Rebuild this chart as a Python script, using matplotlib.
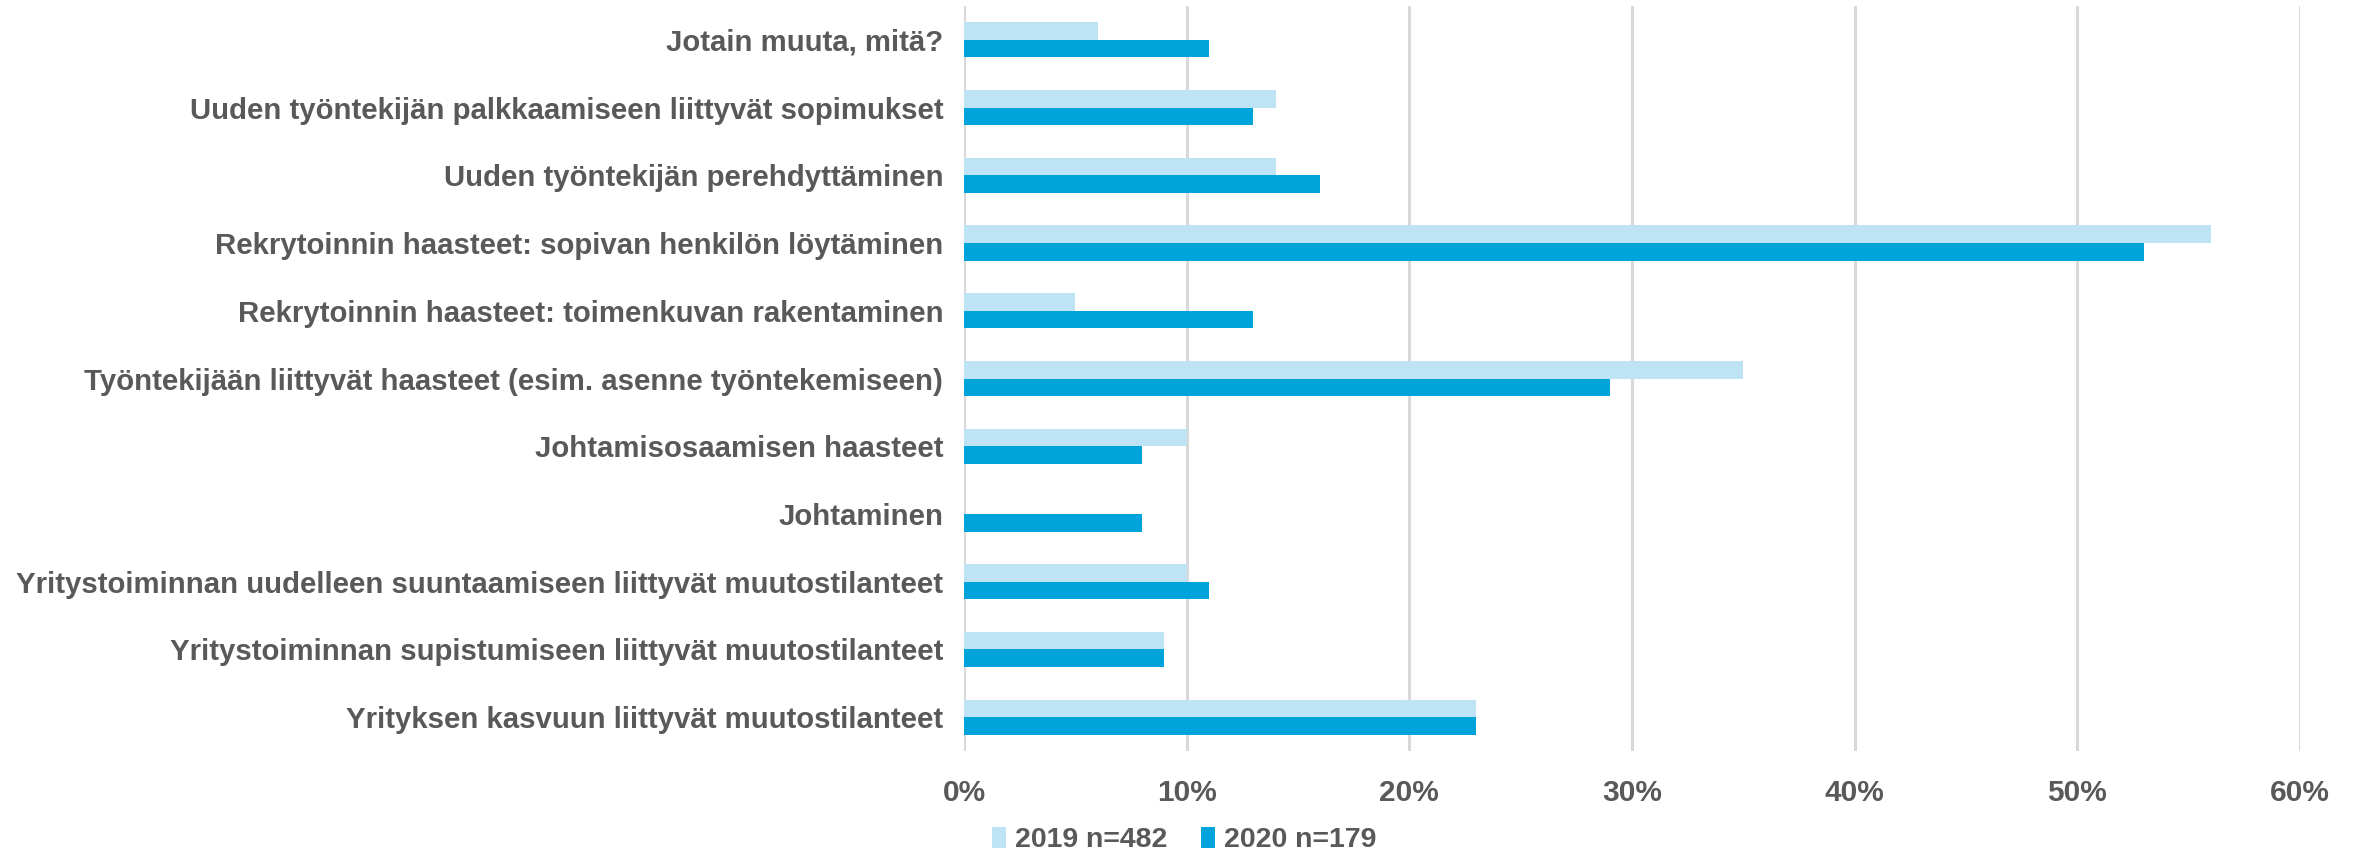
import matplotlib
matplotlib.use("Agg")
import matplotlib.pyplot as plt
import numpy as np
from matplotlib.ticker import FuncFormatter

categories = [
    "Jotain muuta, mitä?",
    "Uuden työntekijän palkkaamiseen liittyvät sopimukset",
    "Uuden työntekijän perehdyttäminen",
    "Rekrytoinnin haasteet: sopivan henkilön löytäminen",
    "Rekrytoinnin haasteet: toimenkuvan rakentaminen",
    "Työntekijään liittyvät haasteet (esim. asenne työntekemiseen)",
    "Johtamisosaamisen haasteet",
    "Johtaminen",
    "Yritystoiminnan uudelleen suuntaamiseen liittyvät muutostilanteet",
    "Yritystoiminnan supistumiseen liittyvät muutostilanteet",
    "Yrityksen kasvuun liittyvät muutostilanteet",
]
values_2019 = [6, 14, 14, 56, 5, 35, 10, 0, 10, 9, 23]
values_2020 = [11, 13, 16, 53, 13, 29, 8, 8, 11, 9, 23]
series_names = ["2019 n=482", "2020 n=179"]
x_ticks = [0, 10, 20, 30, 40, 50, 60]

plt.rcParams['font.family'] = ['Liberation Sans', 'DejaVu Sans']
text_color = "#595959"
c_light = "#BDE3F5"
c_dark = "#00A3DA"

fig = plt.figure(figsize=(23.61, 8.56), dpi=100)
ax = fig.add_axes([964/2361, 1-751/856, (2300-964)/2361, (751-6)/856])

y = np.arange(len(categories))
h = 0.26
ax.barh(y - h/2, values_2019, height=h, color=c_light, label=series_names[0], zorder=3)
ax.barh(y + h/2, values_2020, height=h, color=c_dark, label=series_names[1], zorder=3)

ax.set_ylim(len(categories) - 0.5, -0.5)
ax.set_xlim(0, 60)
ax.set_xticks(x_ticks)
ax.xaxis.set_major_formatter(FuncFormatter(lambda v, p: f"{int(v)}%"))
ax.set_yticks(y)
ax.set_yticklabels(categories)
ax.grid(axis='x', color="#D9D9D9", linewidth=2.2, zorder=0)
for s in ax.spines.values():
    s.set_visible(False)
ax.tick_params(axis='both', length=0, colors=text_color)
ax.tick_params(axis='y', pad=15, labelsize=21.2)
ax.tick_params(axis='x', pad=20, labelsize=21.5)
for lab in ax.get_yticklabels() + ax.get_xticklabels():
    lab.set_fontweight('bold')
    lab.set_color(text_color)

leg = fig.legend(loc='center', bbox_to_anchor=(1184/2361, 1-840/856), ncol=2, frameon=False,
                 prop={'weight': 'bold', 'size': 20.5}, handlelength=0.5, handleheight=0.8,
                 handletextpad=0.3, columnspacing=1.2)
for t in leg.get_texts():
    t.set_color(text_color)

fig.savefig("out.png", dpi=100)
